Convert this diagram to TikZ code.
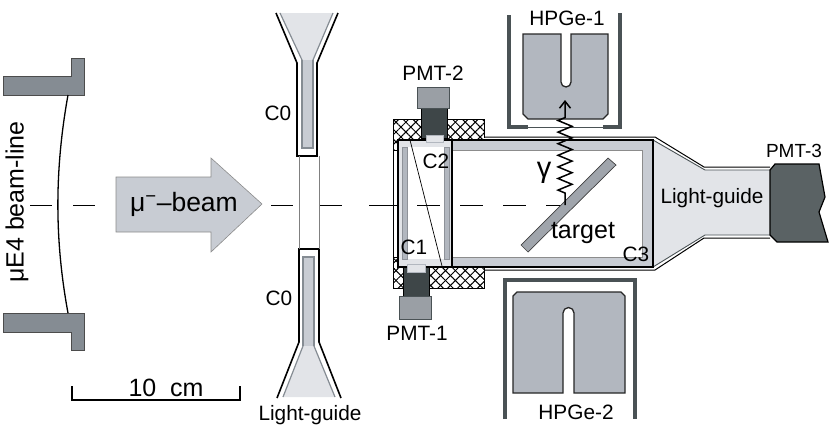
\documentclass[tikz,border=0pt]{standalone}
\usepackage{fontspec}
\setmainfont{Liberation Sans}
\usepackage[usenames, svgnames, dvipsnames]{xcolor}
\usetikzlibrary{arrows.meta,patterns.meta,decorations.pathmorphing}

\definecolor{steel}{HTML}{858C93}
\definecolor{pale}{HTML}{C8CCD3}
\definecolor{paler}{HTML}{E2E4E8}
\definecolor{crystal}{HTML}{B2B7BF}
\definecolor{slate}{HTML}{4A5255}
\definecolor{tubegrey}{HTML}{9A9FA5}
\definecolor{darktube}{HTML}{3E4648}
\definecolor{pmtthree}{HTML}{5A6264}

\tikzset{
  lab/.style={font=\fontsize{20.8}{22}\selectfont,inner sep=0pt},
  biglab/.style={font=\fontsize{25}{27}\selectfont,inner sep=0pt},
  beamdash/.style={black,line width=0.8pt},
  wall/.style={draw=slate,line width=4pt},
  crystalblock/.style={fill=crystal,draw=black!85,line width=1.3pt},
  paddle/.style={fill=crystal,draw=crystal!80!black,line width=0.5pt},
  tubecap/.style={fill=tubegrey,draw=slate,line width=0.8pt},
  tubebody/.style={fill=darktube,draw=black,line width=0.6pt},
  tubelink/.style={fill=paler,draw=crystal,line width=0.5pt},
}

\begin{document}
\begin{tikzpicture}[x=1pt,y=-1pt]
  \useasboundingbox (0,0) rectangle (830,429);

  % beam-line flanges and window
  \draw[fill=steel,draw=black!70,line width=0.8pt] (3,76) -- (71,76) -- (71,58) -- (84,58) -- (84,95) -- (3,95) -- cycle;
  \draw[fill=steel,draw=black!70,line width=0.8pt] (3,313) -- (84,313) -- (84,350) -- (71,350) -- (71,332) -- (3,332) -- cycle;
  \draw[line width=1.3pt] (68,95) .. controls (54.5,170) and (54.5,240) .. (68,313);

  % beam axis
  \coordinate (axisa) at (30,205);
  \coordinate (axisb) at (117,205);
  \draw[beamdash,dash pattern=on 22pt off 21pt] (axisa) -- (axisb);
  \coordinate (axisc) at (271,205);
  \coordinate (axisd) at (343,205);
  \draw[beamdash,dash pattern=on 22pt off 27pt] (axisc) -- (axisd);

  % muon arrow
  \draw[fill=pale,draw=black!45,line width=0.6pt] (116,177) -- (211,177) -- (211,158) -- (262,204) -- (211,252) -- (211,232) -- (116,232) -- cycle;
  \node[biglab,font=\fontsize{26.5}{28}\selectfont] (beamlab) at (184,204) {μ\textsuperscript{−}–beam};
  \node[biglab,rotate=90] (linelab) at (17,202) {μE4 beam-line};

  % scale bar
  \coordinate (barl) at (72,386);
  \coordinate (barr) at (240,386);
  \draw[line width=1.2pt] (barl) -- ++(0,14) -| (barr);
  \node[biglab] (barlab) at (166,388) {10\hspace{0.55em}cm};

  % C0 upper
  \fill[paler] (280,13) -- (302,60) -- (313,60) -- (333,13) -- cycle;
  \draw[fill=pale,draw=steel,line width=1.4pt] (302,60) -- (302,148) -- (313,148) -- (313,60);
  \draw[steel,line width=1.2pt] (280,13) -- (302,60) (333,13) -- (313,60);
  \draw[line width=1.6pt] (276,13) -- (297,63) -- (297,156) -- (317,156) -- (317,63) -- (338,13);
  % C0 lower
  \fill[paler] (283,397) -- (303,346) -- (314,346) -- (335,397) -- cycle;
  \draw[fill=pale,draw=steel,line width=1.4pt] (303,346) -- (303,257) -- (314,257) -- (314,346);
  \draw[steel,line width=1.2pt] (283,397) -- (303,346) (335,397) -- (314,346);
  \draw[line width=1.6pt] (277,398) -- (299,342) -- (299,249) -- (319,249) -- (319,342) -- (341,398);
  % gap between the two
  \draw[black!50,line width=0.6pt] (299,156) -- (299,249) (319,156) -- (319,249);
  \node[lab] (czeroa) at (278,113) {C0};
  \node[lab] (czerob) at (279,298) {C0};
  \node[lab] (guidea) at (310,415) {Light-guide};

  % shielding
  \foreach \ang in {45,-45} {
    \path[pattern={Lines[angle=\ang,distance=7pt,line width=1pt]}] (393,119) rectangle (484,138);
    \path[pattern={Lines[angle=\ang,distance=7pt,line width=1pt]}] (393,268) rectangle (484,288);
    \path[pattern={Lines[angle=\ang,distance=7pt,line width=1pt]}] (393,138) rectangle (398,150);
    \path[pattern={Lines[angle=\ang,distance=7pt,line width=1pt]}] (393,257) rectangle (398,268);
  }
  \draw[line width=0.6pt] (393,119) -- (484,119) -- (484,138);
  \draw[line width=0.6pt] (393,119) -- (393,288) -- (484,288) -- (484,268);
  \draw[line width=0.6pt] (393,150) -- (398,150) (393,257) -- (398,257);

  % third light guide
  \fill[paler] (653,140) -- (705,170) -- (770,170) -- (770,235) -- (705,235) -- (653,267) -- cycle;
  \draw[line width=1pt] (484,137) -- (655,137) -- (704,167) -- (770,167);
  \draw[line width=1pt] (484,270) -- (655,270) -- (704,238) -- (770,238);
  \draw[slate,line width=0.9pt] (653,140) -- (705,170) -- (770,170);
  \draw[slate,line width=0.9pt] (653,267) -- (705,235) -- (770,235);

  % C3 box
  \fill[pale] (452,140) rectangle (653,267);
  \draw[fill=white,draw=black!45,line width=0.8pt] (452,150) rectangle (642,257);
  \draw[line width=1.2pt] (452,140) -- (653,140) -- (653,267) -- (452,267);

  % C1 and C2 box
  \fill[paler] (398,140) rectangle (452,267);
  \fill[white] (404,147) rectangle (446,259);
  \draw[paddle] (402,147) rectangle (407,259);
  \draw[paddle] (444,147) rectangle (449,259);
  \draw[line width=0.7pt] (410,140) -- (442,266);
  \draw[line width=1.2pt] (398,140) rectangle (452,267);
  \coordinate (axise) at (369,205);
  \coordinate (axisf) at (397,205);
  \draw[beamdash] (axise) -- (axisf);
  \coordinate (axisg) at (417,205);
  \coordinate (axish) at (563,205);
  \draw[beamdash,dash pattern=on 23pt off 20pt] (axisg) -- (axish);

  % photomultipliers on the side
  \draw[tubebody] (421,108) rectangle (447,138);
  \draw[tubecap] (417,87) rectangle (449,108);
  \draw[tubelink] (426,135) rectangle (443,142);
  \draw[tubebody] (403,267) rectangle (429,296);
  \draw[tubecap] (399,296) rectangle (431,319);
  \draw[tubelink] (407,264) rectangle (425,272);
  \node[lab] (pmttwo) at (433,73) {PMT-2};
  \node[lab] (pmtone) at (417,333) {PMT-1};
  \node[lab] (ctwo) at (436,161) {C2};
  \node[lab] (cone) at (414,247) {C1};

  % target
  \draw[fill=crystal!90!black,draw=black!75,line width=0.7pt] (608,158) -- (616,165) -- (528,252) -- (521,245) -- cycle;
  \node[biglab] (targetlab) at (583,233) {target};
  \node[lab] (cthree) at (636,254) {C3};

  % HPGe-1
  \draw[slate,line width=0.8pt] (528,127) -- (603,127);
  \draw[wall] (509,15) -- (509,127) -- (528,127);
  \draw[wall] (620,13) -- (620,127) -- (603,127);
  \draw[crystalblock] (523,34) -- (561,34) -- (561,82) arc[start angle=180,end angle=0,radius=5] -- (571,34) -- (608,34) -- (608,114) -- (603,119) -- (528,119) -- (523,114) -- cycle;
  \node[lab] (hpgeone) at (567,18) {HPGe-1};

  % HPGe-2
  \draw[wall] (505,419) -- (505,280) -- (635,280) -- (635,419);
  \draw[crystalblock] (513,393) -- (513,296) -- (517,292) -- (621,292) -- (625,296) -- (625,393) -- (574,393) -- (574,313) arc[start angle=0,end angle=-180,radius=5.5] -- (563,393) -- cycle;
  \node[lab] (hpgetwo) at (576,412) {HPGe-2};

  % gamma
  \coordinate (gammaa) at (565,205);
  \coordinate (gammab) at (565,100);
  \draw[line width=1.5pt,-{Straight Barb[length=7pt,width=11pt]},decorate,
        decoration={zigzag,amplitude=7pt,segment length=11.6pt,pre length=12pt,post length=16pt}]
        (gammaa) -- (gammab);
  \node[biglab,font=\fontsize{29}{30}\selectfont] (gammalab) at (544,173) {γ};

  % PMT-3
  \draw[fill=pmtthree,draw=black,line width=1.2pt] (770,170) -- (775,164) -- (819,164) -- (825,197) -- (819,212) -- (828,242) -- (777,242) -- (770,235) -- cycle;
  \node[lab,font=\fontsize{19}{21}\selectfont] (pmtthreelab) at (794,151) {PMT-3};
  \node[lab] (guideb) at (712,198) {Light-guide};
\end{tikzpicture}
\end{document}
